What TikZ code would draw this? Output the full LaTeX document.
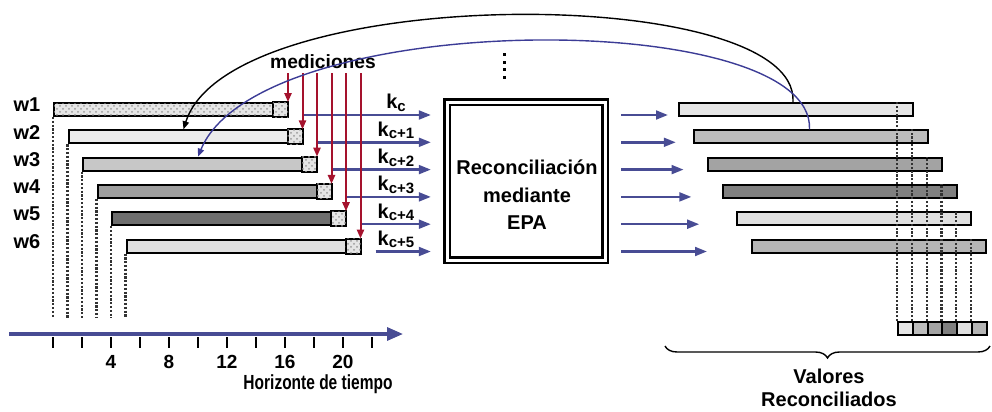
\documentclass[tikz,border=0pt]{standalone}
\usepackage{fontspec}
\setmainfont{Liberation Sans}
\newfontfamily\narrowsans[FakeStretch=0.76]{Liberation Sans}
\usetikzlibrary{arrows.meta,patterns,decorations.pathreplacing}
\definecolor{arrowblue}{RGB}{72,76,148}
\definecolor{measred}{RGB}{165,18,45}
\definecolor{curveblue}{RGB}{60,60,150}

\begin{document}
\begin{tikzpicture}[x=0.5pt, y=-0.5pt, font=\bfseries,
  bar/.style={draw, line width=1pt, anchor=north west, inner sep=0pt,
              minimum width=116.5pt, minimum height=6.5pt},
  dotfill/.style={fill=black!10, postaction={pattern=crosshatch dots, pattern color=black!40}},
  endblk/.style={draw, line width=1pt, dotfill},
  cellbox/.style={draw, line width=1pt, anchor=north west, inner sep=0pt,
                  minimum width=7.4pt, minimum height=6.5pt},
  vdot/.style={black!80, line width=1.1pt, dash pattern=on 1.1pt off 0.8pt},
  meas/.style={measred, line width=1pt, -{Triangle[length=4.5pt, width=3.6pt]}},
  karrow/.style={arrowblue, line width=1.2pt, -{Triangle[length=6pt, width=4.4pt]}},
  curve/.style={line width=0.7pt, -{Triangle[length=4pt, width=3.2pt]}},
  wlab/.style={font=\bfseries\fontsize{10}{12}\selectfont},
  klab/.style={font=\bfseries\fontsize{10}{12}\selectfont},
  txt/.style={font=\bfseries\fontsize{10}{11.5}\selectfont, align=center},
  num/.style={font=\bfseries\fontsize{9.5}{11}\selectfont},
]
  \useasboundingbox (0,0) rectangle (992,412);
  \coordinate (tbase) at (53,318);
  \coordinate (mtop)  at (300,73);

  % ventanas de tiempo
  \node[bar, dotfill] (w1) at (53,102) {};
  \foreach \i/\lf in {2/black!8, 3/black!22, 4/black!38, 5/black!57, 6/black!12}
    \node[bar, fill=\lf] (w\i) at ({53+14.5*(\i-1)},{102+27.3*(\i-1)}) {};
  \foreach \i in {1,...,6} {
    \path[endblk] ([xshift=-7.5pt]w\i.north east) rectangle (w\i.south east);
    \node[wlab] (lw\i) at (27,{105+27.3*(\i-1)}) {w\i};
    \draw[vdot] (w\i.south west) -- (w\i.south west |- tbase);
  }

  \node[txt, font=\bfseries\fontsize{9.6}{11}\selectfont] (med) at (323,62) {mediciones};
  \foreach \y in {53,60.5,68,75.5} \fill (502.5,\y) rectangle ++(3,3);

  \node[draw, double, line width=1.1pt, double distance=1.5pt, inner sep=0pt,
        minimum width=79pt, minimum height=79pt] (epa) at (526,181) {};
  \node[txt, font=\bfseries\fontsize{10}{13.75}\selectfont] (epatxt) at (527,195)
       {Reconciliación\\mediante\\EPA};

  % valores reconciliados
  \foreach \i/\rf in {1/black!10, 2/black!26, 3/black!36, 4/black!50, 5/black!12, 6/black!29} {
    \node[bar, minimum width=117pt, fill=\rf] (r\i) at ({678+14.5*(\i-1)},{102+27.3*(\i-1)}) {};
    \node[cellbox, fill=\rf] (c\i) at ({897+14.8*(\i-1)},321) {};
  }
  \foreach \i in {1,...,6}
    \draw[vdot] (c\i.north west) -- (c\i.north west |- r\i.north);

  \foreach \i/\s in {1/c, 2/c+1, 3/c+2, 4/c+3, 5/c+4, 6/c+5} {
    \coordinate (kin\i)  at ({303+14.5*(\i-1)},{115+27.3*(\i-1)});
    \coordinate (kout\i) at ({668+7.8*(\i-1)},{115+27.3*(\i-1)});
    \draw[karrow, shorten >=7.5pt] (kin\i) -- (kin\i -| epa.west);
    \draw[karrow, shorten <=7.5pt] (kin\i -| epa.east) -- (kout\i);
    \node[klab] (k\i) at (396,{103+27.3*(\i-1)})
         {k\raisebox{-1.3pt}{\fontsize{7.5}{9}\selectfont\s}};
  }
  \foreach \i in {1,...,6}
    \draw[meas] (w\i.north east |- mtop) -- (w\i.north east);

  \draw[curve] ([xshift=57.5pt]r1.north west) .. controls (800,-18) and (230,-18)
        .. ([xshift=58pt]w2.north west);
  \draw[curve, curveblue] ([xshift=58.5pt]r2.north west) .. controls (815,7) and (260,7)
        .. ([xshift=58pt]w3.north west);

  % eje de tiempo
  \coordinate (ax0) at (9,334);
  \coordinate (ax1) at (403,334);
  \draw[arrowblue, line width=1.6pt, -{Triangle[length=8pt, width=6.5pt]}] (ax0) -- (ax1);
  \foreach \t in {0,2,...,22}
    \draw[line width=0.8pt] ({53+14.5*\t},337) -- ({53+14.5*\t},348);
  \foreach \t in {4,8,...,20}
    \node[num] (n\t) at ({53+14.5*\t},362) {\t};
  \node[font=\narrowsans\bfseries\fontsize{10.2}{12}\selectfont] (horiz) at (318,384)
       {Horizonte de tiempo};

  \draw[line width=0.7pt, decorate, decoration={brace, amplitude=6pt}] (990,346) -- (665,346);
  \node[txt] (valores) at (829,388) {Valores\\Reconciliados};
\end{tikzpicture}
\end{document}
